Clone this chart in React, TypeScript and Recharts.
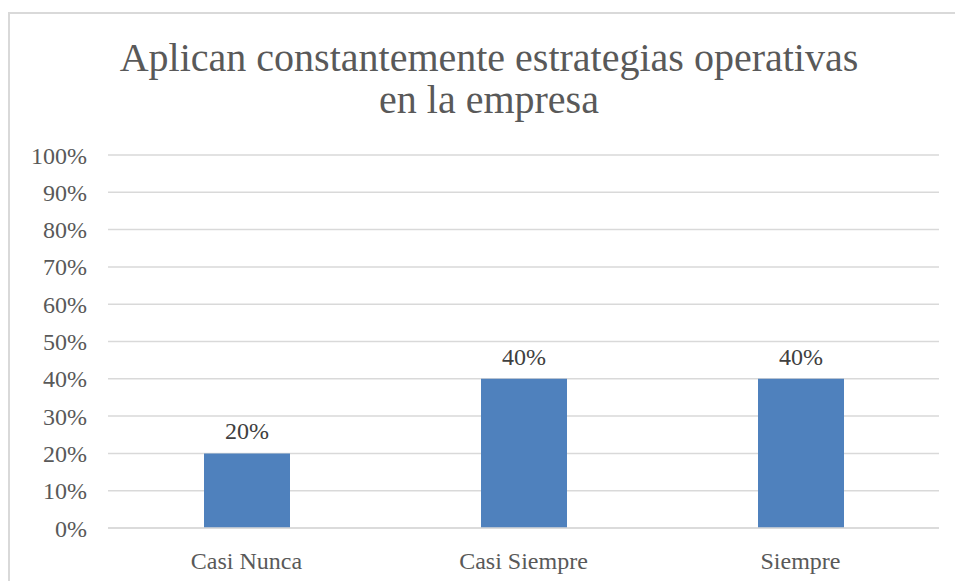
import React from 'react';
import { BarChart, Bar, XAxis, YAxis, CartesianGrid, LabelList } from 'recharts';

const categories = ['Casi Nunca', 'Casi Siempre', 'Siempre'];
const values = [0.2, 0.4, 0.4];
const yTicks = [0, 0.1, 0.2, 0.3, 0.4, 0.5, 0.6, 0.7, 0.8, 0.9, 1];

const data = categories.map((name, i) => ({ name, value: values[i] }));

const font = '"Liberation Serif", serif';
const pct = (v: number) => `${Math.round(v * 100)}%`;

function App() {
  return (
    <div style={{ position: 'fixed', left: 8, top: 12, width: 947, height: 569, overflow: 'hidden' }}>
      <div
        style={{
          position: 'absolute',
          left: 0,
          top: 0,
          width: 962,
          height: 620,
          border: '2px solid #d9d9d9',
          boxSizing: 'border-box',
          background: '#fff',
        }}
      />
      <div
        style={{
          position: 'absolute',
          left: 0,
          top: 25,
          width: 962,
          textAlign: 'center',
          fontFamily: font,
          fontSize: 40,
          lineHeight: '42px',
          color: '#595959',
        }}
      >
        Aplican constantemente estrategias operativas
        <br />
        en la empresa
      </div>
      <div style={{ position: 'absolute', left: 0, top: 0 }}>
        <BarChart
          width={947}
          height={569}
          data={data}
          margin={{ top: 143, right: 16, left: 0, bottom: 0 }}
        >
          <CartesianGrid vertical={false} stroke="#d9d9d9" strokeWidth={1.5} />
          <XAxis
            dataKey="name"
            height={53}
            axisLine={{ stroke: '#d9d9d9', strokeWidth: 1.5 }}
            tickLine={false}
            tickMargin={18}
            tick={{ fill: '#595959', fontFamily: font, fontSize: 24 }}
          />
          <YAxis
            width={100}
            domain={[0, 1]}
            ticks={yTicks}
            tickFormatter={pct}
            axisLine={false}
            tickLine={false}
            tickMargin={15}
            tick={{ fill: '#595959', fontFamily: font, fontSize: 24 }}
          />
          <Bar dataKey="value" fill="#4f81bd" barSize={86} isAnimationActive={false}>
            <LabelList
              dataKey="value"
              position="top"
              offset={14}
              formatter={(v: any) => pct(Number(v))}
              style={{ fill: '#404040', fontFamily: font, fontSize: 24 }}
            />
          </Bar>
        </BarChart>
      </div>
    </div>
  );
}

export default App;
